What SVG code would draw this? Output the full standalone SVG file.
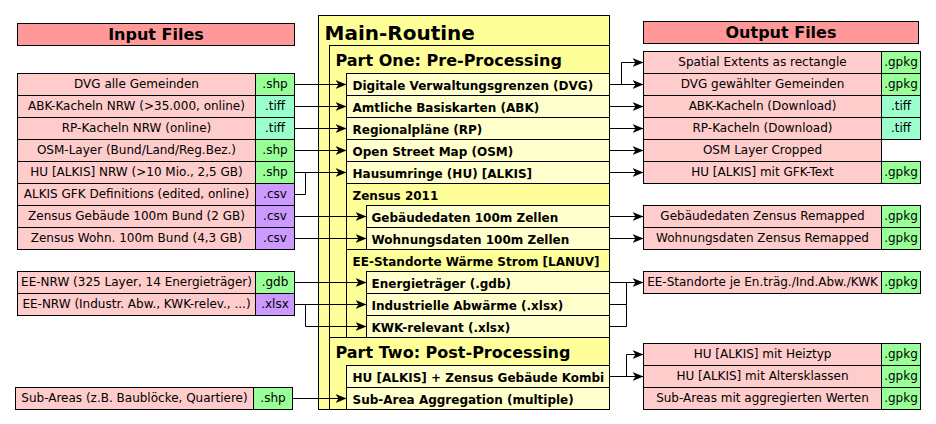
<svg xmlns="http://www.w3.org/2000/svg" width="936" height="424" viewBox="0 0 936 424">
<defs>
<style>
text{font-family:"DejaVu Sans","Liberation Sans",sans-serif;fill:#000}
.b{stroke:#000;stroke-width:1}
.hdr{fill:#ff9999}
.lab{fill:#ffcccc}
.g{fill:#99ff99}
.m{fill:#99ffcc}
.p{fill:#cc99ff}
.y{fill:#ffff99}
.ly{fill:#ffffcc}
.t{font-size:12px}
.c{text-anchor:middle}
.it{font-size:12px;font-weight:bold}
.h{font-size:16px;font-weight:bold;text-anchor:middle}
.conn path{fill:none;stroke:#000;stroke-width:1}
</style>
<marker id="arr" markerUnits="userSpaceOnUse" markerWidth="12" markerHeight="10" refX="11" refY="4.5" orient="auto">
<path d="M0,0 L11,4.5 L0,9 L3,4.5 z" fill="#000"/>
</marker>
</defs>
<rect width="936" height="424" fill="#fff"/>

<g id="input-header">
<rect class="b hdr" x="17.5" y="23.5" width="277" height="22"/>
<text class="h" x="156" y="40">Input Files</text>
</g>

<g id="in-dvg"><rect class="b lab" x="17.5" y="73.5" width="238" height="22"/><rect class="b g" x="255.5" y="73.5" width="39" height="22"/><text class="t c" x="136.5" y="88">DVG alle Gemeinden</text><text class="t c" x="275" y="88">.shp</text></g>
<g id="in-abk"><rect class="b lab" x="17.5" y="95.5" width="238" height="22"/><rect class="b m" x="255.5" y="95.5" width="39" height="22"/><text class="t c" x="136.5" y="110">ABK-Kacheln NRW (&gt;35.000, online)</text><text class="t c" x="275" y="110">.tiff</text></g>
<g id="in-rp"><rect class="b lab" x="17.5" y="117.5" width="238" height="22"/><rect class="b m" x="255.5" y="117.5" width="39" height="22"/><text class="t c" x="136.5" y="132">RP-Kacheln NRW (online)</text><text class="t c" x="275" y="132">.tiff</text></g>
<g id="in-osm"><rect class="b lab" x="17.5" y="139.5" width="238" height="22"/><rect class="b g" x="255.5" y="139.5" width="39" height="22"/><text class="t c" x="136.5" y="154">OSM-Layer (Bund/Land/Reg.Bez.)</text><text class="t c" x="275" y="154">.shp</text></g>
<g id="in-hu"><rect class="b lab" x="17.5" y="161.5" width="238" height="22"/><rect class="b g" x="255.5" y="161.5" width="39" height="22"/><text class="t c" x="136.5" y="176">HU [ALKIS] NRW (&gt;10 Mio., 2,5 GB)</text><text class="t c" x="275" y="176">.shp</text></g>
<g id="in-gfk"><rect class="b lab" x="17.5" y="183.5" width="238" height="22"/><rect class="b p" x="255.5" y="183.5" width="39" height="22"/><text class="t c" x="136.5" y="198">ALKIS GFK Definitions (edited, online)</text><text class="t c" x="275" y="198">.csv</text></g>
<g id="in-zgeb"><rect class="b lab" x="17.5" y="205.5" width="238" height="22"/><rect class="b p" x="255.5" y="205.5" width="39" height="22"/><text class="t c" x="136.5" y="220">Zensus Gebäude 100m Bund (2 GB)</text><text class="t c" x="275" y="220">.csv</text></g>
<g id="in-zwohn"><rect class="b lab" x="17.5" y="227.5" width="238" height="22"/><rect class="b p" x="255.5" y="227.5" width="39" height="22"/><text class="t c" x="136.5" y="242">Zensus Wohn. 100m Bund (4,3 GB)</text><text class="t c" x="275" y="242">.csv</text></g>
<g id="in-ee-gdb"><rect class="b lab" x="17.5" y="271.5" width="238" height="22"/><rect class="b g" x="255.5" y="271.5" width="39" height="22"/><text class="t c" x="136.5" y="286">EE-NRW (325 Layer, 14 Energieträger)</text><text class="t c" x="275" y="286">.gdb</text></g>
<g id="in-ee-xlsx"><rect class="b lab" x="17.5" y="293.5" width="238" height="22"/><rect class="b p" x="255.5" y="293.5" width="39" height="22"/><text class="t c" x="136.5" y="308">EE-NRW (Industr. Abw., KWK-relev., ...)</text><text class="t c" x="275" y="308">.xlsx</text></g>
<g id="in-subareas"><rect class="b lab" x="15.5" y="387.5" width="238" height="22"/><rect class="b g" x="253.5" y="387.5" width="39" height="22"/><text class="t c" x="134.5" y="402">Sub-Areas (z.B. Baublöcke, Quartiere)</text><text class="t c" x="273" y="402">.shp</text></g>

<g id="main-routine">
<rect class="b y" x="318.5" y="15.5" width="291" height="394"/>
<text x="324.5" y="40" style="font-size:20px;font-weight:bold">Main-Routine</text>
</g>
<g id="part-one">
<rect class="b y" x="329.5" y="45.5" width="280" height="292"/>
<text x="335.5" y="65.5" style="font-size:16px;font-weight:bold">Part One: Pre-Processing</text>
</g>
<g id="p1-dvg"><rect class="b ly" x="346.5" y="73.5" width="263" height="22"/><text class="it" x="352.5" y="89.5">Digitale Verwaltungsgrenzen (DVG)</text></g>
<g id="p1-abk"><rect class="b ly" x="346.5" y="95.5" width="263" height="22"/><text class="it" x="352.5" y="111.5">Amtliche Basiskarten (ABK)</text></g>
<g id="p1-rp"><rect class="b ly" x="346.5" y="117.5" width="263" height="22"/><text class="it" x="352.5" y="133.5">Regionalpläne (RP)</text></g>
<g id="p1-osm"><rect class="b ly" x="346.5" y="139.5" width="263" height="22"/><text class="it" x="352.5" y="155.5">Open Street Map (OSM)</text></g>
<g id="p1-hu"><rect class="b ly" x="346.5" y="161.5" width="263" height="22"/><text class="it" x="352.5" y="177.5">Hausumringe (HU) [ALKIS]</text></g>
<g id="p1-zensus">
<rect class="b y" x="346.5" y="183.5" width="263" height="66"/>
<text class="it" x="352.5" y="199.5">Zensus 2011</text>
</g>
<g id="p1-zgeb"><rect class="b ly" x="366.5" y="205.5" width="243" height="22"/><text class="it" x="371.5" y="221.5">Gebäudedaten 100m Zellen</text></g>
<g id="p1-zwohn"><rect class="b ly" x="366.5" y="227.5" width="243" height="22"/><text class="it" x="371.5" y="243.5">Wohnungsdaten 100m Zellen</text></g>
<g id="p1-ee">
<rect class="b y" x="346.5" y="249.5" width="263" height="88"/>
<text class="it" x="352.5" y="265.5">EE-Standorte Wärme Strom [LANUV]</text>
</g>
<g id="p1-energie"><rect class="b ly" x="366.5" y="271.5" width="243" height="22"/><text class="it" x="371.5" y="287.5">Energieträger (.gdb)</text></g>
<g id="p1-abw"><rect class="b ly" x="366.5" y="293.5" width="243" height="22"/><text class="it" x="371.5" y="309.5">Industrielle Abwärme (.xlsx)</text></g>
<g id="p1-kwk"><rect class="b ly" x="366.5" y="315.5" width="243" height="22"/><text class="it" x="371.5" y="331.5">KWK-relevant (.xlsx)</text></g>
<g id="part-two">
<rect class="b y" x="329.5" y="337.5" width="280" height="72"/>
<text x="335.5" y="357.5" style="font-size:16px;font-weight:bold">Part Two: Post-Processing</text>
</g>
<g id="p2-kombi"><rect class="b ly" x="346.5" y="365.5" width="263" height="22"/><text class="it" x="352.5" y="381.5">HU [ALKIS] + Zensus Gebäude Kombi</text></g>
<g id="p2-agg"><rect class="b ly" x="346.5" y="387.5" width="263" height="22"/><text class="it" x="352.5" y="403.5">Sub-Area Aggregation (multiple)</text></g>

<g id="output-header">
<rect class="b hdr" x="643.5" y="21.5" width="275" height="22"/>
<text class="h" x="781" y="38">Output Files</text>
</g>
<g id="out-extents"><rect class="b lab" x="643.5" y="51.5" width="238" height="22"/><rect class="b g" x="881.5" y="51.5" width="39" height="22"/><text class="t c" x="762.5" y="66">Spatial Extents as rectangle</text><text class="t c" x="901" y="66">.gpkg</text></g>
<g id="out-dvg"><rect class="b lab" x="643.5" y="73.5" width="238" height="22"/><rect class="b g" x="881.5" y="73.5" width="39" height="22"/><text class="t c" x="762.5" y="88">DVG gewählter Gemeinden</text><text class="t c" x="901" y="88">.gpkg</text></g>
<g id="out-abk"><rect class="b lab" x="643.5" y="95.5" width="238" height="22"/><rect class="b m" x="881.5" y="95.5" width="39" height="22"/><text class="t c" x="762.5" y="110">ABK-Kacheln (Download)</text><text class="t c" x="901" y="110">.tiff</text></g>
<g id="out-rp"><rect class="b lab" x="643.5" y="117.5" width="238" height="22"/><rect class="b m" x="881.5" y="117.5" width="39" height="22"/><text class="t c" x="762.5" y="132">RP-Kacheln (Download)</text><text class="t c" x="901" y="132">.tiff</text></g>
<g id="out-osm"><rect class="b lab" x="643.5" y="139.5" width="238" height="22"/><text class="t c" x="762.5" y="154">OSM Layer Cropped</text></g>
<g id="out-hu"><rect class="b lab" x="643.5" y="161.5" width="238" height="22"/><rect class="b g" x="881.5" y="161.5" width="39" height="22"/><text class="t c" x="762.5" y="176">HU [ALKIS] mit GFK-Text</text><text class="t c" x="901" y="176">.gpkg</text></g>
<g id="out-zgeb"><rect class="b lab" x="643.5" y="205.5" width="238" height="22"/><rect class="b g" x="881.5" y="205.5" width="39" height="22"/><text class="t c" x="762.5" y="220">Gebäudedaten Zensus Remapped</text><text class="t c" x="901" y="220">.gpkg</text></g>
<g id="out-zwohn"><rect class="b lab" x="643.5" y="227.5" width="238" height="22"/><rect class="b g" x="881.5" y="227.5" width="39" height="22"/><text class="t c" x="762.5" y="242">Wohnungsdaten Zensus Remapped</text><text class="t c" x="901" y="242">.gpkg</text></g>
<g id="out-ee"><rect class="b lab" x="643.5" y="271.5" width="238" height="22"/><rect class="b g" x="881.5" y="271.5" width="39" height="22"/><text class="t c" x="762.5" y="286">EE-Standorte je En.träg./Ind.Abw./KWK</text><text class="t c" x="901" y="286">.gpkg</text></g>
<g id="out-heiz"><rect class="b lab" x="643.5" y="343.5" width="238" height="22"/><rect class="b g" x="881.5" y="343.5" width="39" height="22"/><text class="t c" x="762.5" y="358">HU [ALKIS] mit Heiztyp</text><text class="t c" x="901" y="358">.gpkg</text></g>
<g id="out-alter"><rect class="b lab" x="643.5" y="365.5" width="238" height="22"/><rect class="b g" x="881.5" y="365.5" width="39" height="22"/><text class="t c" x="762.5" y="380">HU [ALKIS] mit Altersklassen</text><text class="t c" x="901" y="380">.gpkg</text></g>
<g id="out-subareas"><rect class="b lab" x="643.5" y="387.5" width="238" height="22"/><rect class="b g" x="881.5" y="387.5" width="39" height="22"/><text class="t c" x="762.5" y="402">Sub-Areas mit aggregierten Werten</text><text class="t c" x="901" y="402">.gpkg</text></g>

<g id="connectors" class="conn">
<path d="M294.5,84.5 H346.5" marker-end="url(#arr)"/>
<path d="M294.5,106.5 H346.5" marker-end="url(#arr)"/>
<path d="M294.5,128.5 H346.5" marker-end="url(#arr)"/>
<path d="M294.5,150.5 H346.5" marker-end="url(#arr)"/>
<path d="M294.5,172.5 H346.5" marker-end="url(#arr)"/>
<path d="M294.5,194.5 H305.5 V172.5"/>
<path d="M294.5,216.5 H366.5" marker-end="url(#arr)"/>
<path d="M294.5,238.5 H366.5" marker-end="url(#arr)"/>
<path d="M294.5,282.5 H366.5" marker-end="url(#arr)"/>
<path d="M294.5,304.5 H366.5" marker-end="url(#arr)"/>
<path d="M305.5,304.5 V326.5 H366.5" marker-end="url(#arr)"/>
<path d="M292.5,398.5 H346.5" marker-end="url(#arr)"/>
<path d="M609.5,84.5 H643.5" marker-end="url(#arr)"/>
<path d="M621.5,84.5 V62.5 H643.5" marker-end="url(#arr)"/>
<path d="M609.5,106.5 H643.5" marker-end="url(#arr)"/>
<path d="M609.5,128.5 H643.5" marker-end="url(#arr)"/>
<path d="M609.5,150.5 H643.5" marker-end="url(#arr)"/>
<path d="M609.5,172.5 H643.5" marker-end="url(#arr)"/>
<path d="M609.5,216.5 H643.5" marker-end="url(#arr)"/>
<path d="M609.5,238.5 H643.5" marker-end="url(#arr)"/>
<path d="M609.5,282.5 H643.5" marker-end="url(#arr)"/>
<path d="M609.5,304.5 H626.5 V282.5"/>
<path d="M609.5,326.5 H626.5 V304.5"/>
<path d="M609.5,376.5 H643.5" marker-end="url(#arr)"/>
<path d="M626.5,376.5 V354.5 H643.5" marker-end="url(#arr)"/>
</g>
</svg>
